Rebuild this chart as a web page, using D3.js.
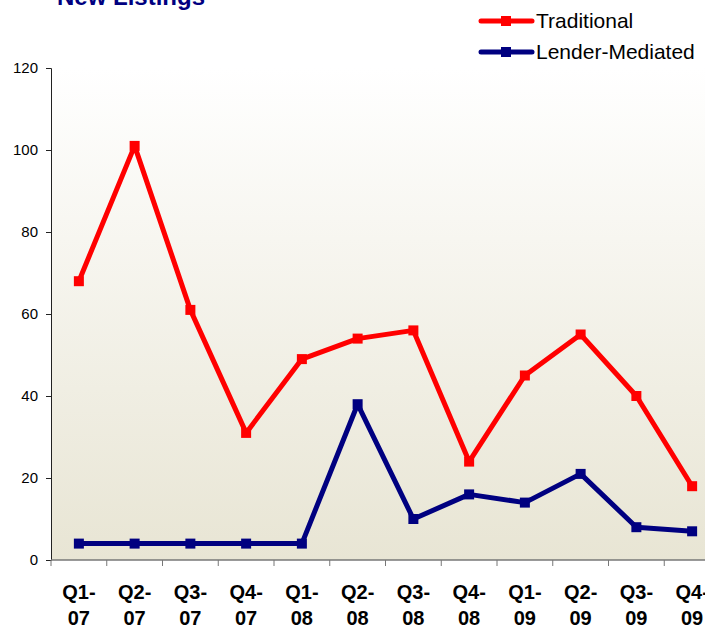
<!DOCTYPE html>
<html>
<head>
<meta charset="utf-8">
<script src="https://cdn.jsdelivr.net/npm/d3@7"></script>
<style>
  body { margin: 0; background: #fff; }
  svg { display: block; font-family: "Liberation Sans", Arial, sans-serif; }
</style>
</head>
<body>
<svg id="chart" width="705" height="629"></svg>
<script>
// chart data
var quarters = ["Q1-07", "Q2-07", "Q3-07", "Q4-07", "Q1-08", "Q2-08", "Q3-08", "Q4-08", "Q1-09", "Q2-09", "Q3-09", "Q4-09"];
var traditional = [68, 101, 61, 31, 49, 54, 56, 24, 45, 55, 40, 18];
var lenderMediated = [4, 4, 4, 4, 4, 38, 10, 16, 14, 21, 8, 7];
var yTicks = [0, 20, 40, 60, 80, 100, 120];

var series = [
  { name: "Traditional", values: traditional, color: "#ff0000" },
  { name: "Lender-Mediated", values: lenderMediated, color: "#000080" }
];

var margin = { top: 68, left: 51 };
var plotW = 669, plotH = 492;

var svg = d3.select("#chart");

// background gradient of the plot area
var defs = svg.append("defs");
var grad = defs.append("linearGradient")
  .attr("id", "bg").attr("x1", 0).attr("y1", 0).attr("x2", 0).attr("y2", 1);
grad.append("stop").attr("offset", "0%").attr("stop-color", "#ffffff");
grad.append("stop").attr("offset", "100%").attr("stop-color", "#e8e5d4");

var g = svg.append("g")
  .attr("transform", "translate(" + margin.left + "," + margin.top + ")");

g.append("rect")
  .attr("width", plotW).attr("height", plotH)
  .attr("fill", "url(#bg)");

var x = d3.scaleBand().domain(quarters).range([0, plotW]);
var y = d3.scaleLinear().domain([0, 120]).range([plotH, 0]);

// y axis
var yAxis = g.append("g")
  .call(d3.axisLeft(y).tickValues(yTicks).tickSize(5).tickPadding(8));
yAxis.attr("font-size", null).attr("font-family", null);
yAxis.selectAll("text").style("font-size", "15px").attr("fill", "#000");
yAxis.selectAll("line, path").attr("stroke", "#222");

// x axis: ticks at band boundaries
var xg = g.append("g").attr("transform", "translate(0," + plotH + ")");
xg.append("line").attr("x1", 0).attr("x2", plotW).attr("stroke", "#777").attr("stroke-width", 1.5);
xg.selectAll(".tk").data(quarters.concat([null])).enter().append("line")
  .attr("x1", function (d, i) { return i * x.step(); })
  .attr("x2", function (d, i) { return i * x.step(); })
  .attr("y1", 0).attr("y2", 6)
  .attr("stroke", "#777");

var lab = xg.selectAll(".lab").data(quarters).enter().append("text")
  .attr("text-anchor", "middle")
  .style("font-size", "20px")
  .attr("font-weight", "bold")
  .attr("fill", "#000")
  .attr("transform", function (d) { return "translate(" + (x(d) + x.bandwidth() / 2) + ",0)"; });
lab.append("tspan").attr("x", 0).attr("y", 39).text(function (d) { return d.split("-")[0] + "-"; });
lab.append("tspan").attr("x", 0).attr("y", 65).text(function (d) { return d.split("-")[1]; });

// lines
var line = d3.line()
  .x(function (d, i) { return x(quarters[i]) + x.bandwidth() / 2; })
  .y(function (d) { return y(d); });

series.forEach(function (s) {
  g.append("path")
    .datum(s.values)
    .attr("d", line)
    .attr("fill", "none")
    .attr("stroke", s.color)
    .attr("stroke-width", 5)
    .attr("stroke-linejoin", "round");
  g.selectAll(null).data(s.values).enter().append("rect")
    .attr("x", function (d, i) { return x(quarters[i]) + x.bandwidth() / 2 - 5; })
    .attr("y", function (d) { return y(d) - 5; })
    .attr("width", 10).attr("height", 10)
    .attr("fill", s.color);
});

// title
svg.append("text")
  .attr("x", 57).attr("y", 5)
  .style("font-size", "24px").attr("font-weight", "bold")
  .attr("fill", "#000080")
  .text("New Listings");

// legend
var leg = svg.append("g").attr("transform", "translate(481,21)");
series.forEach(function (s, i) {
  var row = leg.append("g").attr("transform", "translate(0," + (i * 31) + ")");
  row.append("line").attr("x1", 0).attr("x2", 51).attr("stroke", s.color)
    .attr("stroke-width", 5).attr("stroke-linecap", "round");
  row.append("rect").attr("x", 20).attr("y", -5).attr("width", 10).attr("height", 10).attr("fill", s.color);
  row.append("text").attr("x", 55).attr("y", 7).style("font-size", "21px").attr("fill", "#000").text(s.name);
});
</script>
</body>
</html>
